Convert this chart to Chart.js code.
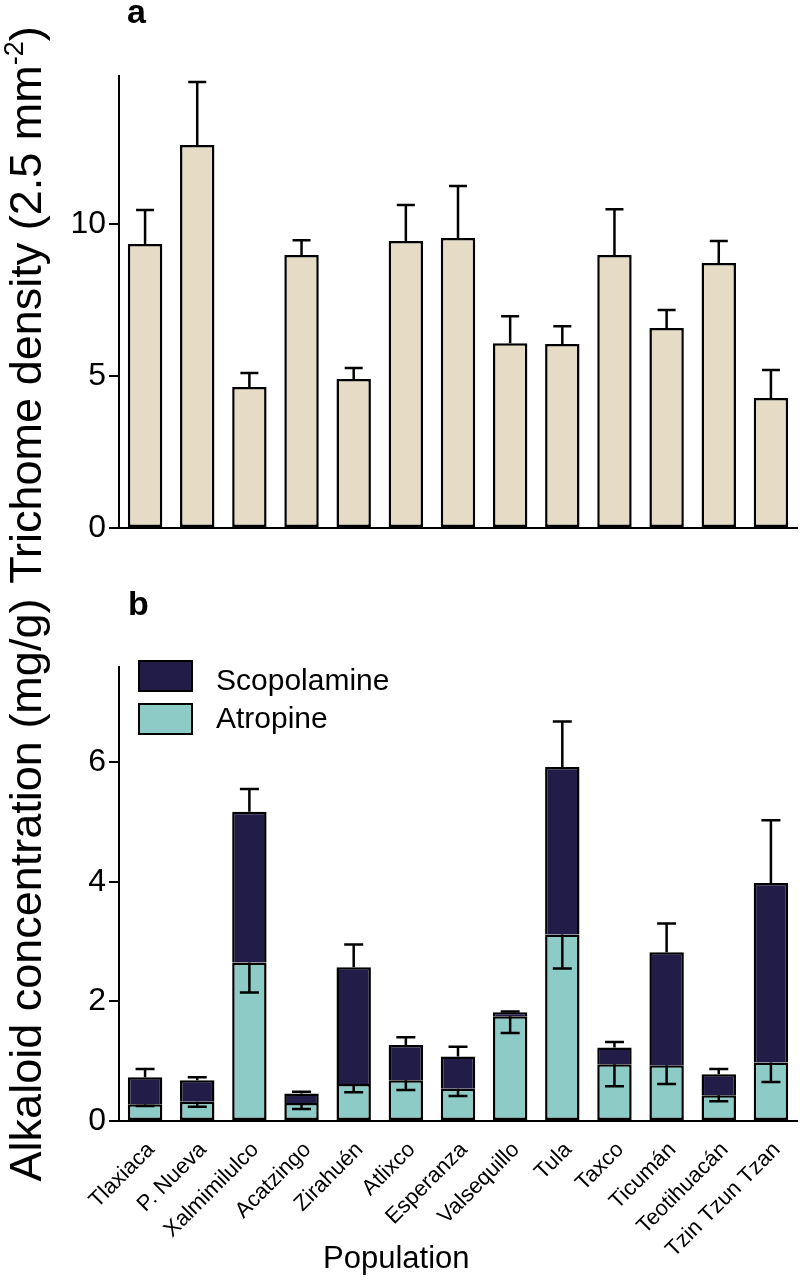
<!DOCTYPE html>
<html>
<head>
<meta charset="utf-8">
<script src="https://cdn.jsdelivr.net/npm/chart.js@4.4.1/dist/chart.umd.min.js"></script>
<style>
html,body{margin:0;padding:0;background:#fff;}
#wrap{position:relative;width:800px;height:1277px;overflow:hidden;font-family:'Liberation Sans',Arial,sans-serif;color:#000;}
canvas{position:absolute;left:0;}
#cA{top:0;}
#cB{top:560px;}
.lbl{position:absolute;white-space:nowrap;line-height:1;}
.ytitle{position:absolute;white-space:nowrap;line-height:1;font-size:45px;transform:translate(-50%,-50%) rotate(-90deg);}
.ytitle sup{font-size:27px;vertical-align:top;position:relative;top:-2px;}
.box{position:absolute;width:55px;height:32px;border:2px solid #000;box-sizing:border-box;}
</style>
</head>
<body>
<div id="wrap">
  <canvas id="cA" width="800" height="560"></canvas>
  <canvas id="cB" width="800" height="717"></canvas>
  <div class="ytitle" style="left:25px;top:305px;">Trichome density (2.5 mm<sup>-2</sup>)</div>
  <div class="ytitle" style="left:25px;top:890px;">Alkaloid concentration (mg/g)</div>
  <div class="lbl" style="left:127px;top:-6px;font-size:34px;font-weight:bold;">a</div>
  <div class="lbl" style="left:128px;top:586px;font-size:34px;font-weight:bold;">b</div>
  <div class="box" style="left:138px;top:660px;background:#221D48;"></div>
  <div class="box" style="left:138px;top:703px;background:#8DCBC6;"></div>
  <div class="lbl" style="left:216px;top:665px;font-size:30px;">Scopolamine</div>
  <div class="lbl" style="left:216px;top:703px;font-size:30px;">Atropine</div>
  <div class="lbl" style="left:323px;top:1242px;font-size:31px;">Population</div>
</div>
<script>
// ---- data ----
const populations = ['Tlaxiaca','P. Nueva','Xalmimilulco','Acatzingo','Zirahuén','Atlixco','Esperanza','Valsequillo','Tula','Taxco','Ticumán','Teotihuacán','Tzin Tzun Tzan'];
const trichomeMean = [9.34, 12.6, 4.64, 8.98, 4.9, 9.44, 9.54, 6.08, 6.05, 8.98, 6.58, 8.72, 4.28];
const trichomeSE   = [1.12, 2.07, 0.46, 0.49, 0.36, 1.19, 1.71, 0.89, 0.59, 1.51, 0.59, 0.72, 0.92];
const atropine     = [0.28, 0.32, 2.65, 0.30, 0.62, 0.68, 0.54, 1.75, 3.12, 0.95, 0.93, 0.43, 0.98];
const atropineSE   = [0.03, 0.08, 0.50, 0.10, 0.14, 0.16, 0.12, 0.28, 0.57, 0.37, 0.31, 0.10, 0.33];
const scopolamine  = [0.45, 0.36, 2.52, 0.16, 1.95, 0.59, 0.54, 0.07, 2.80, 0.28, 1.89, 0.35, 3.00];
const totalSE      = [0.14, 0.05, 0.38, 0.03, 0.38, 0.13, 0.16, 0.01, 0.76, 0.09, 0.48, 0.09, 1.05];
const trichomeTicks = [0, 5, 10];
const alkaloidTicks = [0, 2, 4, 6];
const trichomeMax = 14.87;
const alkaloidMax = 7.59;

Chart.defaults.font.family = "'Liberation Sans', Arial, sans-serif";
Chart.defaults.color = '#000';

function yAxis(max, ticks) {
  return {
    min: 0, max: max, stacked: true,
    afterBuildTicks: s => { s.ticks = ticks.map(v => ({value: v})); },
    afterFit: s => { s.width = 119; },
    border: {display: true, color: '#000', width: 2},
    grid: {display: true, drawOnChartArea: false, drawTicks: true, tickLength: 10, color: '#000', lineWidth: 2},
    ticks: {color: '#000', font: {size: 32}, padding: 3}
  };
}

function errLine(ctx, x, yFrom, yTo, cap) {
  ctx.beginPath();
  ctx.moveTo(x, yFrom); ctx.lineTo(x, yTo);
  ctx.moveTo(x - cap / 2, yTo); ctx.lineTo(x + cap / 2, yTo);
  ctx.stroke();
}

const errA = {
  id: 'errA',
  afterDatasetsDraw(chart) {
    const ctx = chart.ctx, xs = chart.scales.x, ys = chart.scales.y;
    ctx.save(); ctx.strokeStyle = '#000'; ctx.lineWidth = 2.5;
    trichomeMean.forEach((m, i) => {
      errLine(ctx, xs.getPixelForValue(i), ys.getPixelForValue(m), ys.getPixelForValue(m + trichomeSE[i]), 18);
    });
    ctx.restore();
  }
};

const errB = {
  id: 'errB',
  afterDatasetsDraw(chart) {
    const ctx = chart.ctx, xs = chart.scales.x, ys = chart.scales.y;
    ctx.save(); ctx.strokeStyle = '#000'; ctx.lineWidth = 2.5;
    atropine.forEach((a, i) => {
      const x = xs.getPixelForValue(i);
      const tot = a + scopolamine[i];
      errLine(ctx, x, ys.getPixelForValue(tot), ys.getPixelForValue(tot + totalSE[i]), 19);
      errLine(ctx, x, ys.getPixelForValue(a), ys.getPixelForValue(a - atropineSE[i]), 19);
    });
    ctx.restore();
  }
};

const common = {
  responsive: false, animation: false, devicePixelRatio: 1,
  plugins: {legend: {display: false}, tooltip: {enabled: false}}
};

new Chart(document.getElementById('cA'), {
  type: 'bar',
  data: {
    labels: populations,
    datasets: [{
      label: 'Trichome density',
      data: trichomeMean,
      backgroundColor: '#E6DCC6', borderColor: '#000', borderWidth: 2.5, borderSkipped: false,
      barPercentage: 0.66, categoryPercentage: 1
    }]
  },
  options: Object.assign({}, common, {
    layout: {padding: {top: 76, right: 3, left: 0, bottom: 0}},
    scales: {
      x: {
        grid: {display: false}, border: {display: true, color: '#000', width: 2},
        ticks: {display: false},
        afterFit: s => { s.height = 32; }
      },
      y: yAxis(trichomeMax, trichomeTicks)
    }
  }),
  plugins: [errA]
});

new Chart(document.getElementById('cB'), {
  type: 'bar',
  data: {
    labels: populations,
    datasets: [{
      label: 'Atropine', data: atropine,
      backgroundColor: '#8DCBC6', borderColor: '#000', borderWidth: 2.5, borderSkipped: false,
      barPercentage: 0.66, categoryPercentage: 1
    }, {
      label: 'Scopolamine', data: scopolamine,
      backgroundColor: '#221D48', borderColor: '#000',
      borderWidth: {top: 2.5, left: 2.5, right: 2.5, bottom: 0}, borderSkipped: false,
      barPercentage: 0.66, categoryPercentage: 1
    }]
  },
  options: Object.assign({}, common, {
    layout: {padding: {top: 107, right: 3, left: 0, bottom: 0}},
    scales: {
      x: {
        stacked: true,
        grid: {display: false}, border: {display: true, color: '#000', width: 2},
        ticks: {autoSkip: false, minRotation: 45, maxRotation: 45, font: {size: 22}, padding: 8, labelOffset: 6, color: '#000'},
        afterFit: s => { s.height = 156; }
      },
      y: yAxis(alkaloidMax, alkaloidTicks)
    }
  }),
  plugins: [errB]
});
</script>
</body>
</html>
